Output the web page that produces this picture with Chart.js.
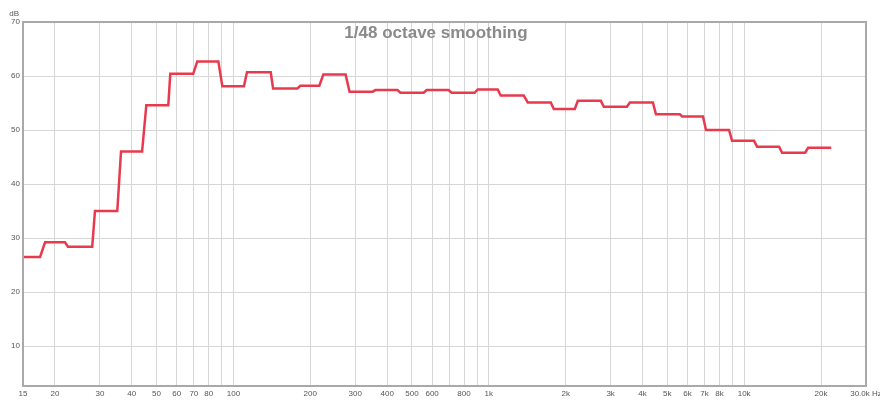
<!DOCTYPE html>
<html>
<head>
<meta charset="utf-8">
<script src="https://cdn.jsdelivr.net/npm/chart.js@4"></script>
<style>
  html, body { margin: 0; padding: 0; background: #fff; }
  #wrap { width: 880px; height: 403px; }
</style>
</head>
<body>
<div id="wrap"><canvas id="chart"></canvas></div>
<script>
// plateaus of the 1/48 octave curve: start freq, end freq, level (dB)
var stepStart = [15, 18.3, 22.5, 28.7, 36.3, 45.6, 56.6, 72.2, 90.5, 113, 143, 183, 225, 285, 360, 451,
                 571, 715, 905, 1113, 1421, 1797, 2232, 2822, 3569, 4514, 5720, 7089, 8966, 11238, 14079, 17806];
var stepEnd   = [17.5, 21.9, 28.0, 35.1, 43.9, 55.6, 69.6, 87.3, 110, 140, 178, 217, 275, 351, 439, 556,
                 696, 880, 1084, 1370, 1749, 2172, 2747, 3474, 4393, 5600, 6900, 8727, 10935, 13704, 17331, 21915];
var stepLevel = [26.5, 29.2, 28.4, 35.0, 46.0, 54.6, 60.4, 62.7, 58.1, 60.7, 57.7, 58.2, 60.3, 57.1, 57.4, 56.9,
                 57.4, 56.9, 57.5, 56.4, 55.1, 53.9, 55.4, 54.3, 55.1, 52.9, 52.5, 50.0, 48.0, 46.9, 45.8, 46.7];

var xGrid = [20, 30, 40, 50, 60, 70, 80, 90, 100, 200, 300, 400, 500, 600, 700, 800, 900,
             1000, 2000, 3000, 4000, 5000, 6000, 7000, 8000, 9000, 10000, 20000];
var xLabels = {15: '15', 20: '20', 30: '30', 40: '40', 50: '50', 60: '60', 70: '70', 80: '80',
               100: '100', 200: '200', 300: '300', 400: '400', 500: '500', 600: '600', 800: '800',
               1000: '1k', 2000: '2k', 3000: '3k', 4000: '4k', 5000: '5k', 6000: '6k', 7000: '7k', 8000: '8k',
               10000: '10k', 20000: '20k', 30000: '30.0k Hz'};
var yTicks = [10, 20, 30, 40, 50, 60, 70];
var title = '1/48 octave smoothing';

var points = [];
for (var i = 0; i < stepLevel.length; i++) {
  points.push({x: stepStart[i], y: stepLevel[i]});
  points.push({x: stepEnd[i], y: stepLevel[i]});
}

var frame = {
  id: 'frame',
  afterDraw: function (chart) {
    var c = chart.ctx, a = chart.chartArea;
    c.save();
    c.strokeStyle = '#a9a9a9';
    c.lineWidth = 2;
    c.strokeRect(a.left, a.top, a.right - a.left, a.bottom - a.top);
    c.fillStyle = '#8a8a8a';
    c.font = 'bold 17px "Liberation Sans", Arial, sans-serif';
    c.textAlign = 'center';
    c.fillText(title, 436, 38);
    c.fillStyle = '#555';
    c.font = '8px "Liberation Sans", Arial, sans-serif';
    c.textAlign = 'right';
    c.fillText('dB', 19, 16);
    c.restore();
  }
};

new Chart(document.getElementById('chart'), {
  type: 'scatter',
  data: {
    datasets: [{
      data: points,
      showLine: true,
      borderColor: 'rgb(232, 58, 78)',
      borderWidth: 2.5,
      pointRadius: 0,
      tension: 0
    }]
  },
  options: {
    responsive: true,
    maintainAspectRatio: false,
    animation: false,
    layout: { padding: { top: 22, right: 14, left: 0, bottom: 0 } },
    plugins: { legend: { display: false }, tooltip: { enabled: false } },
    scales: {
      x: {
        type: 'logarithmic',
        min: 15,
        max: 30000,
        afterBuildTicks: function (s) {
          s.ticks = [15].concat(xGrid, [30000]).map(function (v) { return {value: v}; });
        },
        afterFit: function (s) { s.height = 17; s.paddingLeft = 0; s.paddingRight = 0; },
        ticks: {
          autoSkip: false,
          maxRotation: 0,
          padding: 3,
          color: '#555',
          font: { size: 8, family: '"Liberation Sans", Arial, sans-serif' },
          callback: function (v) { return xLabels[v] || ''; }
        },
        grid: { color: '#d6d6d6', lineWidth: 1, drawTicks: false },
        border: { display: false }
      },
      y: {
        min: 2.6,
        max: 70,
        afterBuildTicks: function (s) {
          s.ticks = yTicks.map(function (v) { return {value: v}; });
        },
        afterFit: function (s) { s.width = 23; s.paddingTop = 0; s.paddingBottom = 0; },
        ticks: {
          padding: 3,
          color: '#555',
          font: { size: 8, family: '"Liberation Sans", Arial, sans-serif' }
        },
        grid: { color: '#d6d6d6', lineWidth: 1, drawTicks: false },
        border: { display: false }
      }
    }
  },
  plugins: [frame]
});
</script>
</body>
</html>
